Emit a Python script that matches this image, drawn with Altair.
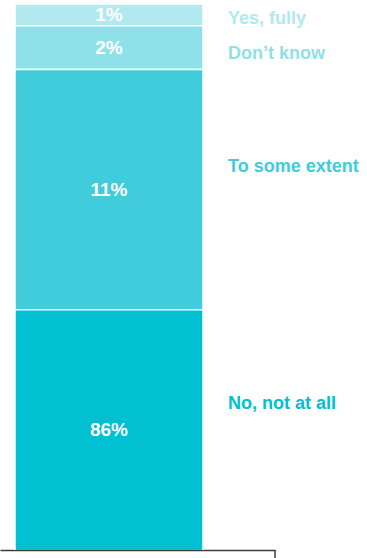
import altair as alt
import pandas as pd

# ---- data ----
categories = ["Yes, fully", "Don’t know", "To some extent", "No, not at all"]
values = [1, 2, 11, 86]
pct_labels = ["1%", "2%", "11%", "86%"]
colors = ["#B1E9EF", "#8FE1E9", "#40CCDB", "#00C0D2"]
side_label_anchor = [0.7, 2.3, 7.45, 18.3]  # side-label anchor, in % units
VISIBLE_MAX = 25  # the bar is cut off below this share

starts, cum = [], 0
for v in values:
    starts.append(cum)
    cum += v
ends = [s + v for s, v in zip(starts, values)]
mids = [(s + min(e, VISIBLE_MAX)) / 2 for s, e in zip(starts, ends)]

df = pd.DataFrame({
    "group": "all",
    "category": categories,
    "value": values,
    "start": starts,
    "end": ends,
    "mid": mids,
    "pct": pct_labels,
    "anchor": side_label_anchor,
})

FONT = "Liberation Sans"

x_enc = alt.X(
    "group:N",
    scale=alt.Scale(paddingInner=0, paddingOuter=0.2314, align=0.1724),
    axis=alt.Axis(title=None, labels=False, ticks=False, grid=False,
                  domainColor="#3d3d3d", domainWidth=1.5),
)
y_scale = alt.Scale(domain=[0, VISIBLE_MAX], reverse=True, nice=False, zero=False)
color_enc = alt.Color("category:N", scale=alt.Scale(domain=categories, range=colors), legend=None)

base = alt.Chart(df)

bars = base.mark_bar(clip=True, stroke="white", strokeWidth=1.5).encode(
    x=x_enc,
    y=alt.Y("start:Q", scale=y_scale, axis=None),
    y2="end:Q",
    color=color_enc,
)

pct_text = base.mark_text(
    font=FONT, fontSize=19, fontWeight="bold", color="white", baseline="middle", align="center"
).encode(
    x=x_enc,
    y=alt.Y("mid:Q", scale=y_scale, axis=None),
    text="pct:N",
)

side_text = base.mark_text(
    font=FONT, fontSize=18, fontWeight="bold", baseline="middle", align="left", dx=119
).encode(
    x=x_enc,
    y=alt.Y("anchor:Q", scale=y_scale, axis=None),
    text="category:N",
    color=color_enc,
)

end_tick = alt.Chart(df.head(1)).mark_rule(color="#3d3d3d", strokeWidth=1.5).encode(
    x=alt.value(275), y=alt.value(546), y2=alt.value(556)
)

chart = alt.layer(bars, pct_text, side_text, end_tick).properties(
    width=275, height=546,
    padding={"left": 0, "top": 4, "right": 0, "bottom": 0},
).configure_view(stroke=None)

chart.save("out.html", embed_options={"renderer": "svg", "actions": False})
